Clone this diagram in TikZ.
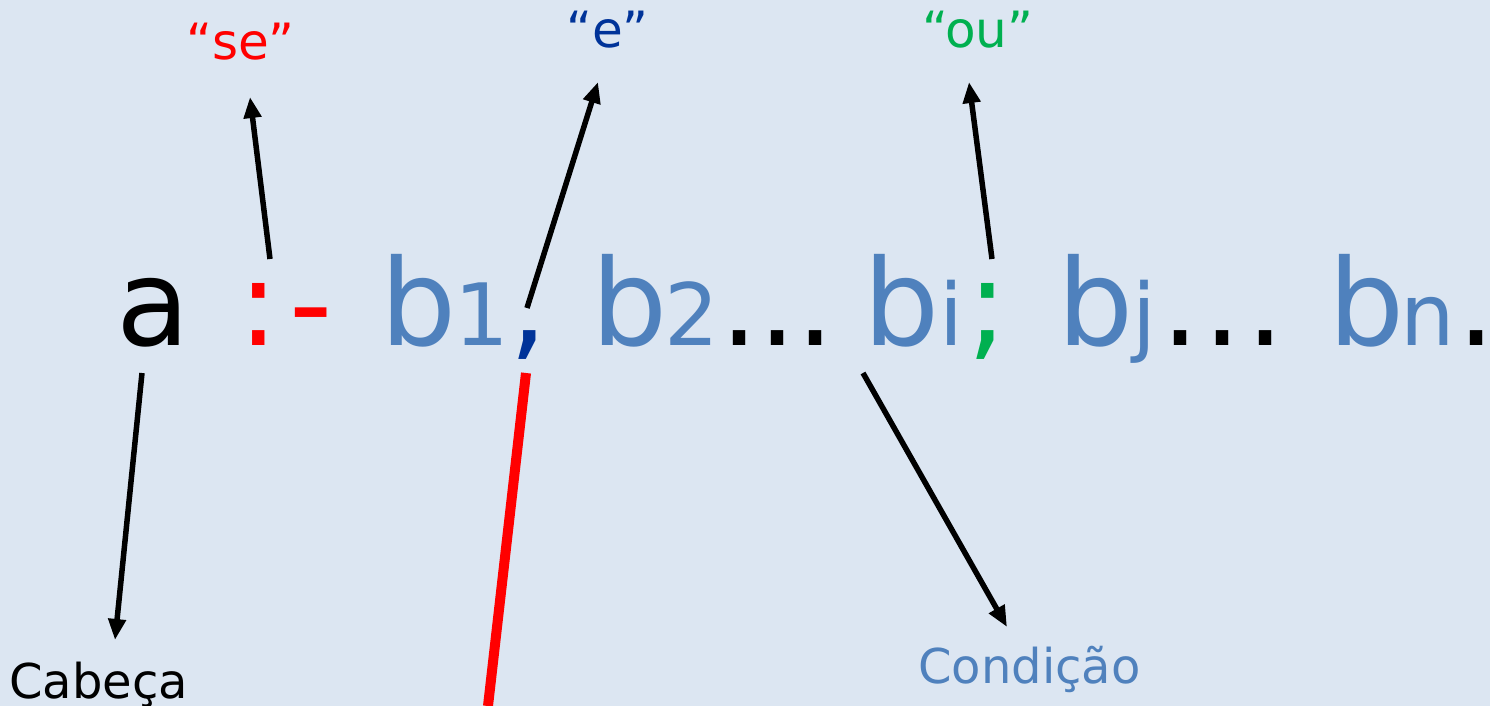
\documentclass[tikz,border=0pt]{standalone}
\usepackage{fontspec}
\setmainfont{DejaVu Sans}
\usetikzlibrary{arrows.meta,calc}
\definecolor{bg}{HTML}{DCE6F2}
\definecolor{bblue}{HTML}{4F81BD}
\definecolor{dblue}{HTML}{003399}
\definecolor{ogreen}{HTML}{00B050}
\definecolor{pred}{HTML}{FF0000}
\begin{document}
\begin{tikzpicture}[x=1pt,y=-1pt,
  big/.style={anchor=base, inner sep=0pt, font=\fontsize{120}{140}\selectfont},
  sub/.style={anchor=base, inner sep=0pt, font=\fontsize{86}{100}\selectfont},
  lab/.style={anchor=base, inner sep=0pt, font=\fontsize{50}{60}\selectfont},
  arr/.style={line width=5.5pt, -{Triangle[length=21pt,width=17pt]}},
  redbar/.style={line width=10pt, pred}
]
\path[use as bounding box, fill=bg] (0,0) rectangle (1490,706);

% main clause
\node[big] (a) at (153.5,345) {a};
\node[big, text=pred] (colon) at (259,345) {:};
\node[big, text=pred] (dash) at (311.5,345) {-};
\node[big, text=bblue] (b1) at (418.5,345) {b};
\node[sub, text=bblue] (s1) at (481.5,345) {1};
\node[big, text=dblue] (comma) at (528.5,345) {,};
\node[big, text=bblue] (b2) at (630,345) {b};
\node[sub, text=bblue] (s2) at (691.5,345) {2};
\node[big] (dots1) at (777.5,345) {...};
\node[big, text=bblue] (bi) at (901.5,345) {b};
\node[sub, text=bblue] (si) at (951,345) {i};
\node[big, text=ogreen] (semi) at (988,345) {;};
\node[big, text=bblue] (bj) at (1096,345) {b};
\node[sub, text=bblue] (sj) at (1144,345) {j};
\node[big] (dots2) at (1223,345) {.\kern4pt.\kern4pt.};
\node[big, text=bblue] (bn) at (1367,345) {b};
\node[sub, text=bblue] (sn) at (1428,345) {n};
\node[big] (stop) at (1477,345) {.};

% labels
\node[lab, text=pred] (se) at (240.5,60) {“se”};
\node[lab, text=dblue] (e) at (607.5,48) {“e”};
\node[lab, text=ogreen] (ou) at (978,48) {“ou”};
\node[lab, font=\fontsize{48}{58}\selectfont] (cab) at (98.5,698) {Cabeça};
\node[lab, font=\fontsize{48}{58}\selectfont, text=bblue] (cond) at (1029.5,683) {Condição};

% connector end points
\coordinate (aFoot) at (142,373);
\coordinate (cabTip) at (115,640);
\coordinate (colonTop) at (270,259);
\coordinate (seTip) at (250,97);
\coordinate (commaTop) at (527,308);
\coordinate (eTip) at (598,82);
\coordinate (semiTop) at (992,259);
\coordinate (ouTip) at (969,82);
\coordinate (biFoot) at (863,373);
\coordinate (condTip) at (1007,627);
\coordinate (commaFoot) at (526,373);
\coordinate (redEnd) at (488,706);

\draw[arr] (aFoot) -- (cabTip);
\draw[arr] (colonTop) -- (seTip);
\draw[arr] (commaTop) -- (eTip);
\draw[arr] (semiTop) -- (ouTip);
\draw[arr] (biFoot) -- (condTip);
\draw[redbar] (commaFoot) -- (redEnd);
\end{tikzpicture}
\end{document}
